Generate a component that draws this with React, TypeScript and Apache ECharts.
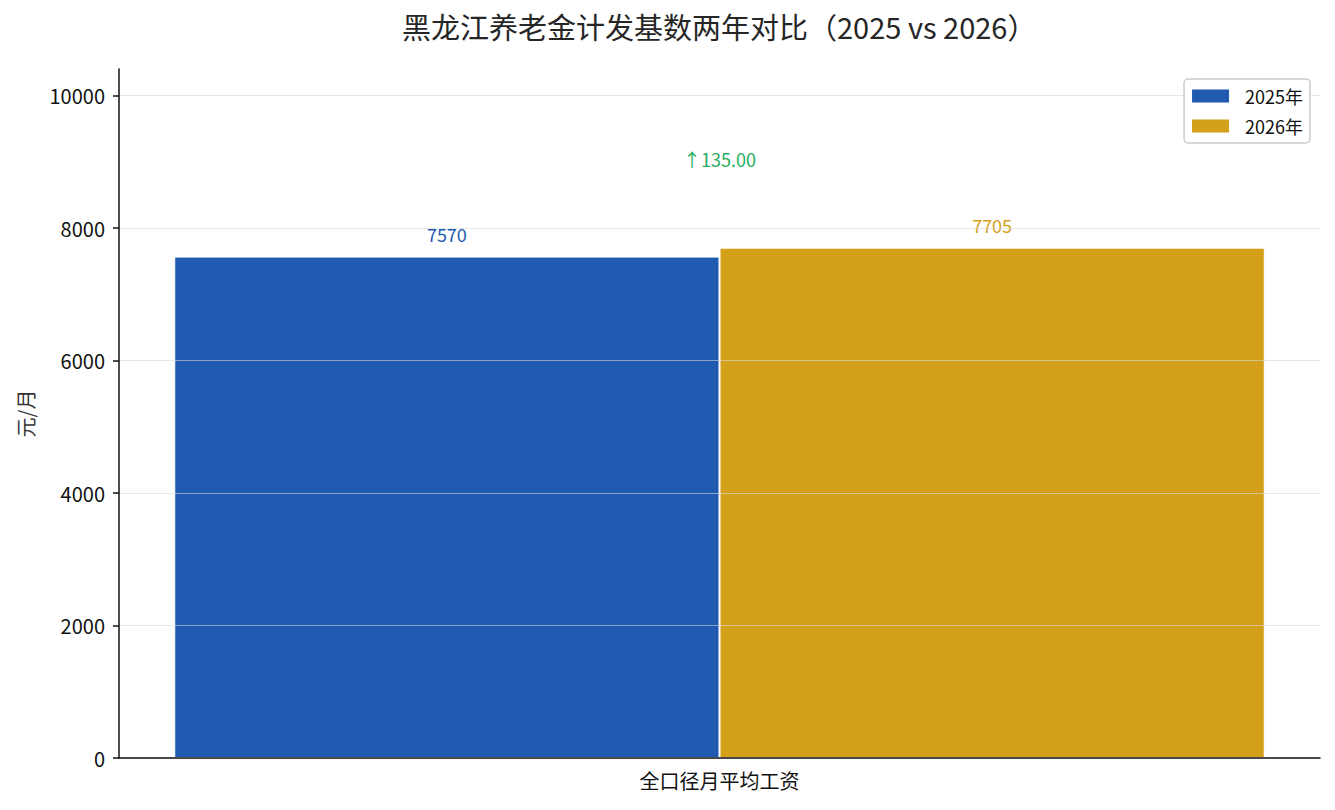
import React, { useEffect, useRef } from "react";
import * as echarts from "echarts";

const categories = ["全口径月平均工资"];
const seriesNames = ["2025年", "2026年"];
const values2025 = [7570];
const values2026 = [7705];
const yTicks = [0, 2000, 4000, 6000, 8000, 10000];
const annotationY = [9050];
const colors = ["#1f5bb0", "#d4a01a"];
const FONT = "'Noto Sans CJK SC', 'Noto Sans', sans-serif";

export default function App() {
  const ref = useRef<HTMLDivElement>(null);
  useEffect(() => {
    if (!ref.current) return;
    const chart = echarts.init(ref.current, undefined, { renderer: "svg" });
    const diff = values2026[0] - values2025[0];
    const yMax = Math.max(...values2025, ...values2026) * 1.35;
    chart.setOption({
      animation: false,
      textStyle: { fontFamily: FONT },
      title: {
        text: "黑龙江养老金计发基数两年对比（2025 vs 2026）",
        left: 397,
        top: 6,
        textStyle: { fontFamily: FONT, fontSize: 29, fontWeight: "normal", color: "#262626" },
      },
      legend: {
        data: seriesNames,
        orient: "vertical",
        right: 25,
        top: 79,
        z: 20,
        padding: [7, 7, 7, 8],
        itemWidth: 37,
        itemHeight: 13,
        itemGap: 10,
        borderColor: "#cccccc",
        borderWidth: 1.5,
        borderRadius: 4,
        backgroundColor: "#ffffff",
        icon: "rect",
        itemStyle: { borderWidth: 0 },
        textStyle: { fontFamily: FONT, fontSize: 18, color: "#111", lineHeight: 20, padding: [0, 0, 0, 11] },
      },
      grid: { left: 119, right: 15, top: 69, bottom: 52 },
      xAxis: {
        type: "category",
        data: categories,
        z: 5,
        axisLine: { lineStyle: { color: "#111", width: 1.5 } },
        axisTick: { alignWithLabel: true, length: 6, lineStyle: { color: "#111", width: 1.5 } },
        axisLabel: { fontFamily: FONT, fontSize: 20, color: "#111", margin: 12 },
      },
      yAxis: {
        type: "value",
        min: 0,
        max: yMax,
        interval: 2000,
        z: 5,
        name: "元/月",
        nameLocation: "middle",
        nameGap: 84,
        nameTextStyle: { fontFamily: FONT, fontSize: 20, color: "#333" },
        axisLine: { show: true, lineStyle: { color: "#111", width: 1.5 } },
        axisTick: { show: true, length: 6, customValues: yTicks, lineStyle: { color: "#111", width: 1.5 } },
        axisLabel: {
          fontFamily: FONT,
          fontSize: 20,
          color: "#111",
          margin: 14,
          customValues: yTicks,
          formatter: (v: number) => String(v),
        },
        splitLine: { show: true, lineStyle: { color: "rgba(215,215,215,0.6)", width: 1 } },
      },
      series: [
        {
          name: seriesNames[0],
          type: "bar",
          data: values2025,
          barGap: "0%",
          barCategoryGap: "9.2%",
          itemStyle: { color: colors[0], borderColor: "#ffffff", borderWidth: 1 },
          label: { show: true, position: "top", distance: 14, fontFamily: FONT, fontSize: 18, color: colors[0] },
        },
        {
          name: seriesNames[1],
          type: "bar",
          data: values2026,
          barGap: "0%",
          barCategoryGap: "9.2%",
          itemStyle: { color: colors[1], borderColor: "#ffffff", borderWidth: 1 },
          label: { show: true, position: "top", distance: 14, fontFamily: FONT, fontSize: 18, color: colors[1] },
        },
        {
          name: "diff",
          type: "scatter",
          data: annotationY.map((v, i) => [categories[i], v]),
          symbolSize: 0,
          silent: true,
          itemStyle: { opacity: 1 },
          label: {
            show: true,
            position: "inside",
            formatter: () => "↑" + diff.toFixed(2),
            fontFamily: FONT,
            fontSize: 18,
            color: "#27ae60",
          },
        },
      ],
    });
    return () => chart.dispose();
  }, []);
  return <div ref={ref} style={{ width: 1335, height: 810, margin: -8 }} />;
}
